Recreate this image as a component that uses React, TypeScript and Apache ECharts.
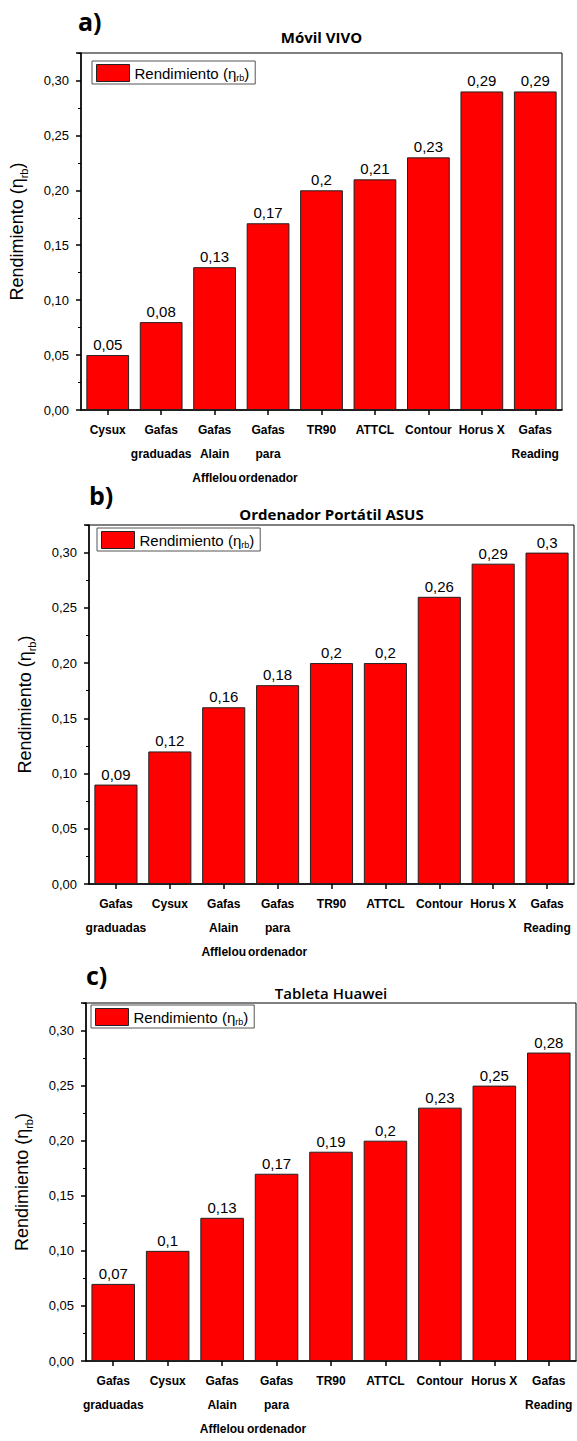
import React, { useEffect, useRef } from "react";
import * as echarts from "echarts";

const catsA = ["Cysux", "Gafas\ngraduadas", "Gafas\nAlain\nAfflelou", "Gafas\npara\nordenador", "TR90", "ATTCL", "Contour", "Horus X", "Gafas\nReading"];
const valsA = [0.05, 0.08, 0.13, 0.17, 0.2, 0.21, 0.23, 0.29, 0.29];

const catsB = ["Gafas\ngraduadas", "Cysux", "Gafas\nAlain\nAfflelou", "Gafas\npara\nordenador", "TR90", "ATTCL", "Contour", "Horus X", "Gafas\nReading"];
const valsB = [0.09, 0.12, 0.16, 0.18, 0.2, 0.2, 0.26, 0.29, 0.3];

const catsC = ["Gafas\ngraduadas", "Cysux", "Gafas\nAlain\nAfflelou", "Gafas\npara\nordenador", "TR90", "ATTCL", "Contour", "Horus X", "Gafas\nReading"];
const valsC = [0.07, 0.1, 0.13, 0.17, 0.19, 0.2, 0.23, 0.25, 0.28];

const panelLetters = ["a)", "b)", "c)"];
const panelTitles = ["Móvil VIVO", "Ordenador Portátil ASUS", "Tableta Huawei"];
const seriesName = "Rendimiento";

const FONT = "'Liberation Sans', Arial, sans-serif";

export default function App() {
  const ref = useRef<HTMLDivElement>(null);
  useEffect(() => {
    document.body.style.margin = "0";
    if (!ref.current) return;
    const chart = echarts.init(ref.current, null, { renderer: "svg" });

    const grids = [
      { left: 81, top: 53, width: 481, height: 357 },
      { left: 89, top: 525, width: 485, height: 359 },
      { left: 86, top: 1003, width: 490, height: 366 },
    ];
    const cats = [catsA, catsB, catsC];
    const vals = [valsA, valsB, valsC];
    const letterPos = [
      { left: 78, top: 6 },
      { left: 89, top: 480 },
      { left: 86, top: 960 },
    ];
    const titleTop = [29, 506, 985];
    const titleWeight = ["bold", "bold", 600];
    const legendPos = [
      { left: 92, top: 61 },
      { left: 97, top: 528 },
      { left: 91, top: 1005 },
    ];

    const richName = {
      t: { fontSize: 18, fontFamily: FONT, color: "#000", lineHeight: 24 },
      s: { fontSize: 11, fontFamily: FONT, color: "#000", lineHeight: 12, verticalAlign: "bottom" },
    };
    const richLegend = {
      t: { fontSize: 15, fontFamily: FONT, color: "#000", lineHeight: 18 },
      s: { fontSize: 9, fontFamily: FONT, color: "#000", lineHeight: 9, verticalAlign: "bottom" },
    };

    const option: any = {
      animation: false,
      backgroundColor: "#fff",
      title: [
        ...panelLetters.map((t, i) => ({
          text: t,
          left: letterPos[i].left,
          top: letterPos[i].top,
          padding: 0,
          textStyle: { fontSize: 25, fontWeight: "bold", fontFamily: "'Open Sans', sans-serif", color: "#000", lineHeight: 30 },
        })),
        ...panelTitles.map((t, i) => ({
          text: t,
          left: grids[i].left + grids[i].width / 2,
          textAlign: "center",
          top: titleTop[i],
          padding: 0,
          textStyle: { fontSize: 15, fontWeight: titleWeight[i], fontFamily: "'Open Sans', sans-serif", color: "#000" },
        })),
      ],
      legend: legendPos.map((p) => ({
        left: p.left,
        top: p.top,
        data: [seriesName],
        orient: "vertical",
        icon: "rect",
        itemWidth: 33,
        itemHeight: 17,
        padding: [3, 6, 2, 4],
        borderColor: "#555",
        borderWidth: 1,
        backgroundColor: "#fff",
        selectedMode: false,
        formatter: () => "{t|Rendimiento (η}{s|rb}{t|)}",
        textStyle: { rich: richLegend },
        itemStyle: { color: "#ff0000", borderColor: "#222", borderWidth: 1 },
      })),
      grid: grids.map((g) => ({
        ...g,
        show: true,
        borderColor: "#000",
        borderWidth: 1,
        backgroundColor: "transparent",
      })),
      xAxis: cats.map((c, i) => ({
        type: "category",
        gridIndex: i,
        data: c,
        axisLine: { show: true, lineStyle: { color: "#000", width: 1.5 } },
        axisTick: { show: true, alignWithLabel: true, length: 5, inside: false, lineStyle: { color: "#000", width: 1.5 } },
        axisLabel: {
          interval: 0,
          margin: 8,
          fontSize: 12,
          fontWeight: "bold",
          fontFamily: FONT,
          color: "#000",
          lineHeight: 24,
        },
        splitLine: { show: false },
      })),
      yAxis: cats.map((_, i) => ({
        type: "value",
        gridIndex: i,
        min: 0,
        max: 0.325,
        interval: 0.05,
        name: "{t|Rendimiento (η}{s|rb}{t|)}",
        nameLocation: "middle",
        nameRotate: 90,
        nameGap: 52,
        nameTextStyle: { rich: richName },
        axisLine: { show: true, lineStyle: { color: "#000", width: 1.5 } },
        axisTick: { show: true, inside: false, length: 5, lineStyle: { color: "#000", width: 1.5 } },
        minorTick: { show: true, splitNumber: 2, length: 3, lineStyle: { color: "#000", width: 1 } },
        axisLabel: {
          margin: 12,
          fontSize: 13,
          fontFamily: FONT,
          color: "#000",
          showMaxLabel: false,
          formatter: (v: number) => v.toFixed(2).replace(".", ","),
        },
        splitLine: { show: false },
        minorSplitLine: { show: false },
      })),
      series: vals.map((v, i) => ({
        name: seriesName,
        type: "bar",
        xAxisIndex: i,
        yAxisIndex: i,
        data: v,
        barWidth: "80%",
        itemStyle: { color: "#ff0000", borderColor: "#222", borderWidth: 1 },
        label: {
          show: true,
          position: "top",
          distance: 3,
          fontSize: 15,
          fontFamily: FONT,
          color: "#000",
          formatter: (p: any) => String(p.value).replace(".", ","),
        },
      })),
    };

    chart.setOption(option);
    return () => chart.dispose();
  }, []);

  return <div ref={ref} style={{ width: 577, height: 1441 }} />;
}
